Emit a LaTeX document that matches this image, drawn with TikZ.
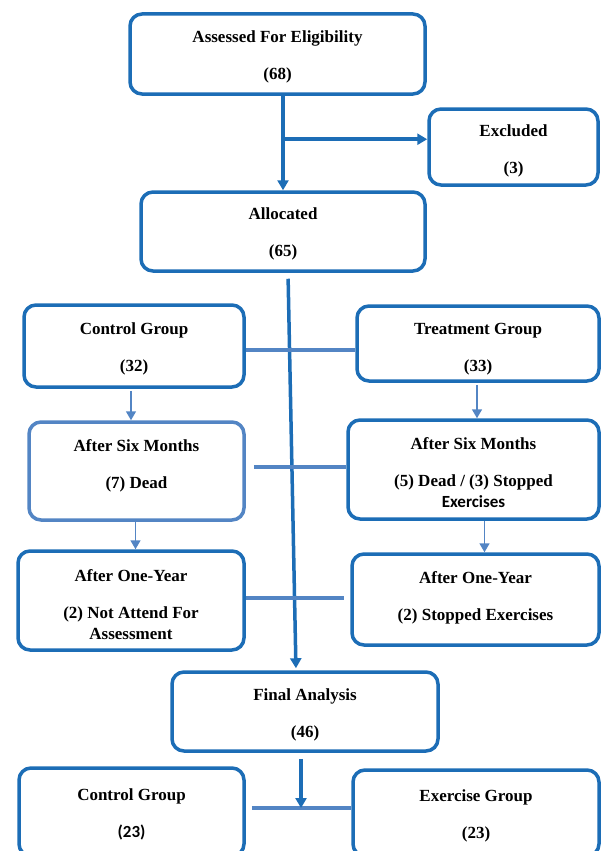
\documentclass[tikz,border=0pt]{standalone}
\usepackage{fontspec}
\setmainfont{Liberation Serif}
\newfontfamily\calib{Carlito}
\usetikzlibrary{arrows.meta,positioning,calc}

\definecolor{boxblue}{HTML}{1C6DB6}
\definecolor{softblue}{HTML}{5385C4}

\tikzset{
  flowbox/.style={draw=boxblue, line width=3.5pt, rounded corners=12pt, fill=white,
    align=center, inner sep=2pt, font=\fontsize{17}{21}\selectfont\bfseries},
  mainarrow/.style={draw=boxblue, line width=3.5pt, -{Triangle[width=11pt,length=10pt]}},
  thinarrow/.style={draw=softblue, line width=1.6pt, -{Triangle[width=10pt,length=9pt]}},
  link/.style={draw=softblue, line width=4pt}
}

\newcommand{\gap}{\\[16pt]}
\newcommand{\lift}[1]{\rule{0pt}{#1}}
\newcommand{\sink}[1]{\rule[-#1]{0pt}{0pt}}

\begin{document}
\begin{tikzpicture}[x=1pt, y=-1pt]
\useasboundingbox (0,0) rectangle (603,851);
\clip (0,0) rectangle (603,851);

% boxes
\node[flowbox, minimum width=295pt, minimum height=80pt] (assess) at (277.5,54)
  {\lift{18pt}Assessed For Eligibility\gap (68)};
\node[flowbox, minimum width=169pt, minimum height=76pt] (excluded) at (513.5,147)
  {\lift{19pt}Excluded\gap (3)};
\node[flowbox, minimum width=284pt, minimum height=79pt] (alloc) at (283,231.5)
  {\lift{16pt}Allocated\gap (65)};

\node[flowbox, minimum width=220pt, minimum height=82pt] (ctrl) at (134,346)
  {\lift{18pt}Control Group\gap (32)};
\node[flowbox, minimum width=242pt, minimum height=75pt] (treat) at (478,343.5)
  {\lift{23pt}Treatment Group\gap (33)};

\node[flowbox, draw=softblue, minimum width=215pt, minimum height=98pt] (ctrlsix) at (136.5,471)
  {After Six Months\gap (7) Dead\sink{13pt}};
\node[flowbox, minimum width=251pt, minimum height=99pt] (treatsix) at (473.5,469.5)
  {\lift{18pt}After Six Months\gap (5) Dead / (3) Stopped\\ {\calib Exercises}};

\node[flowbox, minimum width=226pt, minimum height=99pt] (ctrlyear) at (131,600.5)
  {\lift{20pt}After One-Year\gap (2) Not Attend For\\ Assessment};
\node[flowbox, minimum width=247pt, minimum height=91pt] (treatyear) at (475.5,599.5)
  {After One-Year\gap (2) Stopped Exercises\sink{7pt}};

\node[flowbox, minimum width=266pt, minimum height=79pt] (final) at (305,711.5)
  {\lift{18pt}Final Analysis\gap (46)};

\node[flowbox, minimum width=225pt, minimum height=88pt] (ctrlend) at (131.5,812)
  {\lift{16pt}Control Group\gap {\calib (23)}};
\node[flowbox, minimum width=246pt, minimum height=86pt] (exend) at (476,813)
  {\lift{18pt}Exercise Group\gap (23)};

% main flow
\draw[mainarrow] (assess.south -| alloc) -- (alloc.north);
\coordinate (branch) at ($(assess.south -| alloc)!0.46!(alloc.north)$);
\draw[mainarrow] (branch) -- (branch -| excluded.west);
\draw[mainarrow, shorten <=6pt, shorten >=2pt] ([xshift=5pt]alloc.south) -- ([xshift=-9pt]final.north);

% group links
\draw[link] ([yshift=-4pt]ctrl.east) -- ([yshift=-4pt]ctrl.east -| treat.west);
\draw[link] ([xshift=8pt,yshift=4pt]ctrlsix.east) -- ([yshift=4pt]ctrlsix.east -| treatsix.west);
\draw[link] ([yshift=3pt]ctrlyear.east) -- ([xshift=-6pt,yshift=3pt]ctrlyear.east -| treatyear.west);
\coordinate (split) at (301,808);
\draw[link] (split -| ctrlend.east) ++(6pt,0) -- (split -| exend.west);
\draw[mainarrow, shorten <=6pt] (final.south -| split) -- (split);

% follow-up steps
\draw[thinarrow, shorten <=2pt] ([xshift=-3pt]ctrl.south) -- ([xshift=-3pt]ctrl.south |- ctrlsix.north);
\draw[thinarrow, shorten <=2pt] ([xshift=-1pt]treat.south) -- ([xshift=-1pt]treat.south |- treatsix.north);
\draw[thinarrow] ([xshift=-1pt]ctrlsix.south) -- ([xshift=-1pt]ctrlsix.south |- ctrlyear.north);
\draw[thinarrow] ([xshift=11pt]treatsix.south) -- ([xshift=11pt]treatsix.south |- treatyear.north);
\end{tikzpicture}
\end{document}
